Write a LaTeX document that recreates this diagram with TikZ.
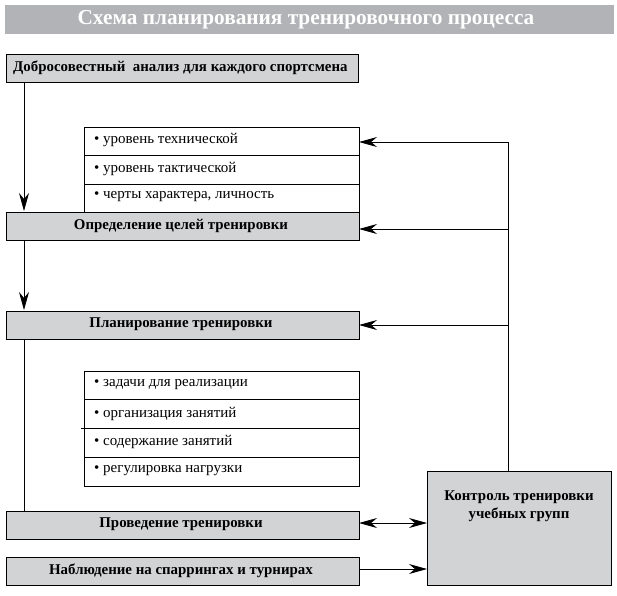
\documentclass[tikz,border=0pt]{standalone}
\usepackage{fontspec}
\setmainfont{Liberation Serif}
\usetikzlibrary{arrows.meta}
\definecolor{titlegray}{RGB}{178,179,183}
\definecolor{boxgray}{RGB}{209,211,212}
\tikzset{
  graybox/.style={draw=black, line width=0.9pt, fill=boxgray, inner sep=0pt},
  listbox/.style={draw=black, line width=0.7pt, fill=white, inner sep=0pt},
  boxtext/.style={font=\bfseries\fontsize{14.9}{18}\selectfont, inner sep=0pt},
  itemtext/.style={font=\fontsize{15}{18}\selectfont, inner sep=0pt, anchor=west},
  conn/.style={line width=0.8pt},
  tip/.tip={Stealth[length=18pt, width=10pt, inset=6pt]},
  arr/.style={conn, -tip},
}
\begin{document}
\begin{tikzpicture}[x=1pt, y=-1pt]
\useasboundingbox (0,0) rectangle (617,595);
% title
\fill[titlegray] (5,5) rectangle (614,34);
\node[font=\bfseries\fontsize{21.3}{24}\selectfont, text=white, inner sep=0pt] (title) at (306,19.5) {Схема планирования тренировочного процесса};
% box 1
\draw[graybox] (6,54) rectangle (358,82);
\node[boxtext, anchor=west] (b1) at (13,68) {Добросовестный\ \ анализ для каждого спортсмена};
% list 1
\draw[listbox] (84,127) rectangle (359,212);
\draw[line width=0.7pt] (84,155.5) -- (359,155.5) (84,184) -- (359,184);
\node[itemtext] (l1a) at (94,139.5) {\textbullet\ уровень технической};
\node[itemtext] (l1b) at (94,168.5) {\textbullet\ уровень тактической};
\node[itemtext] (l1c) at (94,197) {\textbullet\ черты характера, личность};
% box 2
\draw[graybox] (6,212) rectangle (359,240);
\node[boxtext] (b2) at (181,225.5) {Определение целей тренировки};
% box 3
\draw[graybox] (6,311) rectangle (359,339);
\node[boxtext] (b3) at (181,324.5) {Планирование тренировки};
% list 2
\draw[listbox] (84,371) rectangle (359,486);
\draw[line width=0.7pt] (84,399.5) -- (359,399.5) (81,428) -- (359,428) (84,457) -- (359,457);
\node[itemtext] (l2a) at (94,385) {\textbullet\ задачи для реализации};
\node[itemtext] (l2b) at (94,413.5) {\textbullet\ организация занятий};
\node[itemtext] (l2c) at (94,442) {\textbullet\ содержание занятий};
\node[itemtext] (l2d) at (94,471) {\textbullet\ регулировка нагрузки};
% box 4
\draw[graybox] (6,511) rectangle (359,539);
\node[boxtext] (b4) at (181,524.5) {Проведение тренировки};
% box 5
\draw[graybox] (6,557) rectangle (359,585);
\node[boxtext] (b5) at (181,570.5) {Наблюдение на спаррингах и турнирах};
% control box
\draw[graybox] (427,471) rectangle (611,585);
\node[boxtext, align=center] (ctl) at (519,506) {Контроль тренировки\\учебных групп};
% coordinates
\coordinate (p1) at (24,82);
\coordinate (p2) at (24,211);
\coordinate (p3) at (24,240);
\coordinate (p4) at (24,310);
\coordinate (p5) at (24,339);
\coordinate (p6) at (24,511);
\coordinate (v0) at (508,142);
\coordinate (v1) at (508,229);
\coordinate (v2) at (508,325);
\coordinate (vb) at (508,471);
\coordinate (e1) at (359,142);
\coordinate (e2) at (359,229);
\coordinate (e3) at (359,325);
\coordinate (e4) at (359,523);
\coordinate (c4) at (427,523);
\coordinate (e5) at (359,569);
\coordinate (c5) at (427,569);
% connectors
\draw[arr] (p1) -- (p2);
\draw[arr] (p3) -- (p4);
\draw[conn] (p5) -- (p6);
\draw[conn] (vb) -- (v0);
\draw[arr] (v0) -- (e1);
\draw[arr] (v1) -- (e2);
\draw[arr] (v2) -- (e3);
\draw[conn, tip-tip] (e4) -- (c4);
\draw[arr] (e5) -- (c5);
\end{tikzpicture}
\end{document}
